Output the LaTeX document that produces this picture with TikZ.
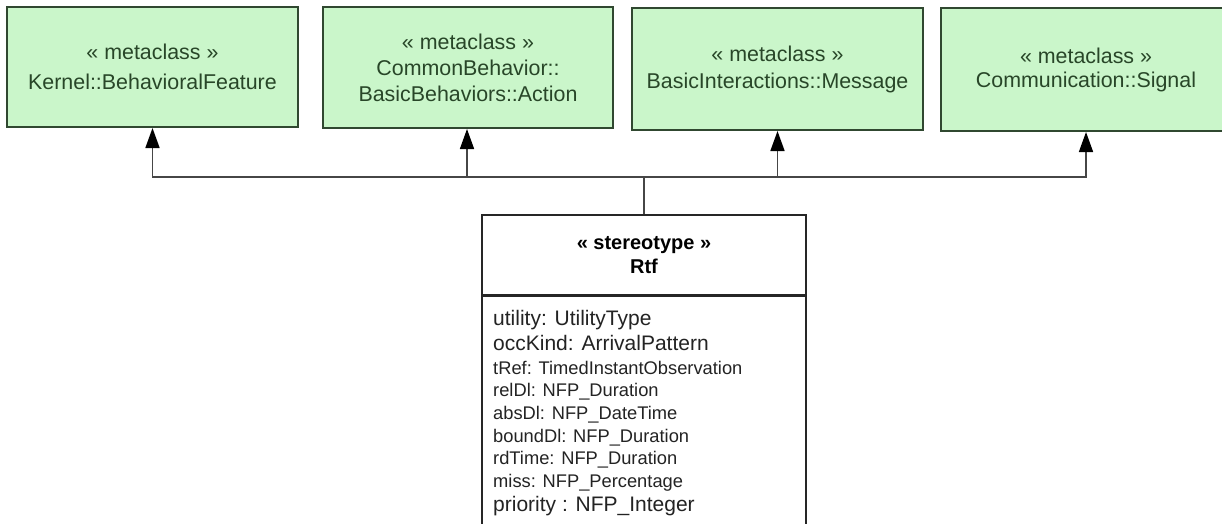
\documentclass[tikz,border=0pt]{standalone}
\usepackage{fontspec}
\setmainfont{Liberation Sans}
\usetikzlibrary{arrows.meta}
\definecolor{metafill}{RGB}{202,246,202}
\definecolor{metadraw}{RGB}{48,72,48}
\definecolor{metatext}{RGB}{40,70,40}
\definecolor{linegray}{RGB}{70,70,70}
\definecolor{attrtext}{RGB}{35,35,35}
\begin{document}
\begin{tikzpicture}[x=1pt,y=-1pt,
 metabox/.style={draw=metadraw, fill=metafill, line width=2pt, minimum width=291pt, minimum height=120pt, inner sep=0pt, align=center, text=metatext, font=\fontsize{21.4}{26}\selectfont},
 gen/.style={draw=linegray, line width=1.6pt, -{Triangle[length=20pt,width=14pt,color=black]}},
 link/.style={draw=linegray, line width=1.6pt},
 umlbox/.style={draw=black!85, line width=1.3pt, fill=white, minimum width=324pt, inner sep=0pt},
 attr/.style={anchor=base west, inner sep=0pt, text=attrtext},
 bigattr/.style={attr, font=\fontsize{21}{24}\selectfont},
 smallattr/.style={attr, font=\fontsize{18.3}{22}\selectfont}]
\useasboundingbox (0,0) rectangle (1222,523);
\clip (0,0) rectangle (1222,523);

\node[metabox, font=\fontsize{21.4}{30}\selectfont] (m1) at (152.5,67) {« metaclass »\\Kernel::BehavioralFeature};
\node[metabox, minimum width=290pt, minimum height=121pt] (m2) at (468,67.5) {« metaclass »\\CommonBehavior::\\BasicBehaviors::Action};
\node[metabox, minimum height=122pt, font=\fontsize{21.4}{27}\selectfont] (m3) at (777.5,69) {« metaclass »\\BasicInteractions::Message};
\node[metabox, minimum width=290pt, minimum height=123pt, font=\fontsize{21.4}{24}\selectfont] (m4) at (1086,69.5) {« metaclass »\\Communication::Signal};

\node[umlbox, minimum height=80pt, align=center, font=\bfseries\fontsize{20}{24}\selectfont] (rtf) at (644,255) {« stereotype »\\Rtf};
\node[umlbox, minimum height=235pt, anchor=north] (rtfattr) at (rtf.south) {};

\node[bigattr] (a1) at (493,325) {utility: UtilityType};
\node[bigattr] (a2) at (493,350) {occKind: ArrivalPattern};
\node[smallattr] (a3) at (493,374) {tRef: TimedInstantObservation};
\node[smallattr] (a4) at (493,396) {relDl: NFP\_Duration};
\node[smallattr] (a5) at (493,419) {absDl: NFP\_DateTime};
\node[smallattr] (a6) at (493,442) {boundDl: NFP\_Duration};
\node[smallattr] (a7) at (493,464) {rdTime: NFP\_Duration};
\node[smallattr] (a8) at (493,487) {miss: NFP\_Percentage};
\node[bigattr] (a9) at (493,511) {priority : NFP\_Integer};

\coordinate (j) at (644,177);
\draw[link] (rtf.north) -- (j);
\draw[gen] (j) -| (m1.south);
\draw[gen] (j) -| ([xshift=-1pt]m2.south);
\draw[gen] (j) -| (m3.south);
\draw[gen] (j) -| (m4.south);
\end{tikzpicture}
\end{document}
